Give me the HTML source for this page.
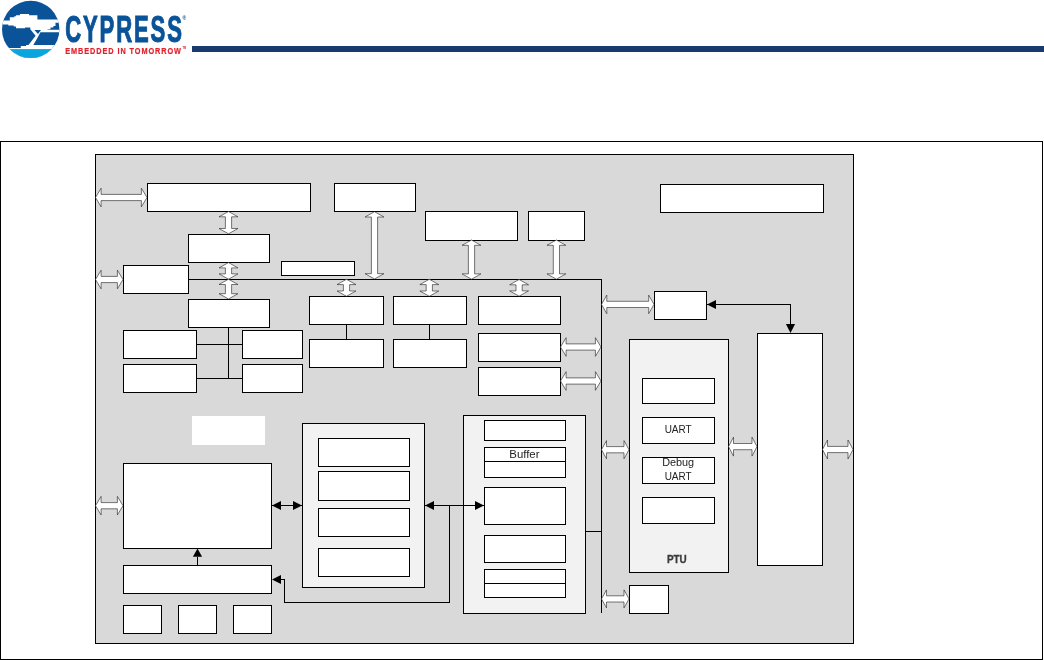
<!DOCTYPE html>
<html><head><meta charset="utf-8"><style>
html,body{margin:0;padding:0;background:#fff;width:1044px;height:660px;overflow:hidden;position:relative}
</style></head><body>

<svg width="200" height="62" viewBox="0 0 200 62" style="position:absolute;left:0;top:0;will-change:transform">
  <defs><clipPath id="cc"><circle cx="30.7" cy="29.4" r="28.7"/></clipPath></defs>
  <g clip-path="url(#cc)">
    <rect x="0" y="0" width="64" height="62" fill="#0a5399"/>
    <path fill="#fff" d="M0,20.6 L9.8,20.6 L9.8,17.2 L14.3,17.2 L14.3,16.3 L16,16.3 L16,15.3 L19.9,15.3 L19.9,14.1 L29.1,14.1 L29.1,15.3 L37.4,15.3 L37.4,19.5 L62,19.5 L62,22.7 L55.5,22.7 L55.5,26 L53.4,26 L53.4,27.5 L50.5,27.5 L50.5,29.2 L47.5,29.2 L47.5,29.8 L62,29.8 L62,32.2 L40.4,32.2 L38,37 L33.3,44.9 L62,44.9 L62,62 L0,62 L0,47.9 L20.8,47.9 L20.8,46.1 L26.1,46.1 L26.1,44.9 L28.5,44.9 L35.6,35.8 L30.3,29.2 L30.3,27.4 L25,27.4 L25,28.3 L16,28.3 L16,26.5 L13.7,26.5 L13.7,25.4 L8.3,25.4 L8.3,24.5 L2.4,24.5 L2.4,23 L0,23 Z"/>
    <path fill="#0a5399" d="M34.4,30.1 L41,30.1 L38,34 Z"/>
    <rect x="0" y="49.1" width="64" height="13" fill="#08a5df"/>
  </g>
  <g transform="translate(65.2,0) scale(0.6,1)"><text x="0" y="42.4" font-family="Liberation Sans, sans-serif" font-weight="bold" font-size="36.8" fill="#0a5399" stroke="#0a5399" stroke-width="1.1" textLength="194.5" lengthAdjust="spacing">CYPRESS</text></g>
  <text x="182.6" y="19.5" font-family="Liberation Sans, sans-serif" font-weight="bold" font-size="5" fill="#0a5399">&#174;</text>
  <g transform="translate(65.2,0) scale(0.85,1)"><text x="0" y="53.6" font-family="Liberation Sans, sans-serif" font-weight="bold" font-size="8.6" fill="#e2202a" stroke="#e2202a" stroke-width="0.2" textLength="136.2" lengthAdjust="spacing">EMBEDDED IN TOMORROW</text></g>
  <text x="182.4" y="49.4" font-family="Liberation Sans, sans-serif" font-weight="bold" font-size="2.6" fill="#e31f2b">TM</text>
</svg>
<div style="position:absolute;left:192px;top:46px;width:852px;height:6px;background:#183a6e"></div>

<svg width="1044" height="660" viewBox="0 0 1044 660" style="position:absolute;left:0;top:0;will-change:transform">
<rect x="0.5" y="141.5" width="1042" height="518" fill="#fff" stroke="#000" stroke-width="1"/>
<rect x="95.5" y="154.5" width="758" height="489" fill="#d9d9d9" stroke="#000" stroke-width="1"/>
<line x1="188" y1="279.5" x2="602" y2="279.5" stroke="#000" stroke-width="1"/>
<line x1="601.5" y1="279" x2="601.5" y2="613" stroke="#000" stroke-width="1"/>
<line x1="228.5" y1="327" x2="228.5" y2="379" stroke="#000" stroke-width="1"/>
<line x1="196" y1="344.5" x2="242" y2="344.5" stroke="#000" stroke-width="1"/>
<line x1="196" y1="378.5" x2="242" y2="378.5" stroke="#000" stroke-width="1"/>
<line x1="346.5" y1="324" x2="346.5" y2="339" stroke="#000" stroke-width="1"/>
<line x1="429.5" y1="324" x2="429.5" y2="339" stroke="#000" stroke-width="1"/>
<line x1="585" y1="531.5" x2="602" y2="531.5" stroke="#000" stroke-width="1"/>
<rect x="147.5" y="183.5" width="163" height="28" fill="#fff" stroke="#000" stroke-width="1"/>
<rect x="334.5" y="183.5" width="81" height="28" fill="#fff" stroke="#000" stroke-width="1"/>
<rect x="660.5" y="184.5" width="163" height="28" fill="#fff" stroke="#000" stroke-width="1"/>
<rect x="425.5" y="211.5" width="92" height="29" fill="#fff" stroke="#000" stroke-width="1"/>
<rect x="528.5" y="211.5" width="56" height="29" fill="#fff" stroke="#000" stroke-width="1"/>
<rect x="188.5" y="234.5" width="81" height="28" fill="#fff" stroke="#000" stroke-width="1"/>
<rect x="123.5" y="265.5" width="65" height="28" fill="#fff" stroke="#000" stroke-width="1"/>
<rect x="281.5" y="261.5" width="73" height="14" fill="#fff" stroke="#000" stroke-width="1"/>
<rect x="188.5" y="299.5" width="81" height="28" fill="#fff" stroke="#000" stroke-width="1"/>
<rect x="309.5" y="296.5" width="74" height="28" fill="#fff" stroke="#000" stroke-width="1"/>
<rect x="393.5" y="296.5" width="73" height="28" fill="#fff" stroke="#000" stroke-width="1"/>
<rect x="478.5" y="296.5" width="82" height="28" fill="#fff" stroke="#000" stroke-width="1"/>
<rect x="123.5" y="330.5" width="73" height="28" fill="#fff" stroke="#000" stroke-width="1"/>
<rect x="242.5" y="330.5" width="60" height="28" fill="#fff" stroke="#000" stroke-width="1"/>
<rect x="123.5" y="364.5" width="73" height="28" fill="#fff" stroke="#000" stroke-width="1"/>
<rect x="242.5" y="364.5" width="60" height="28" fill="#fff" stroke="#000" stroke-width="1"/>
<rect x="309.5" y="339.5" width="74" height="28" fill="#fff" stroke="#000" stroke-width="1"/>
<rect x="393.5" y="339.5" width="73" height="28" fill="#fff" stroke="#000" stroke-width="1"/>
<rect x="478.5" y="333.5" width="82" height="28" fill="#fff" stroke="#000" stroke-width="1"/>
<rect x="478.5" y="367.5" width="82" height="28" fill="#fff" stroke="#000" stroke-width="1"/>
<rect x="654.5" y="291.5" width="52" height="28" fill="#fff" stroke="#000" stroke-width="1"/>
<rect x="757.5" y="333.5" width="65" height="232" fill="#fff" stroke="#000" stroke-width="1"/>
<rect x="123.5" y="463.5" width="148" height="85" fill="#fff" stroke="#000" stroke-width="1"/>
<rect x="123.5" y="565.5" width="148" height="28" fill="#fff" stroke="#000" stroke-width="1"/>
<rect x="123.5" y="605.5" width="38" height="28" fill="#fff" stroke="#000" stroke-width="1"/>
<rect x="178.5" y="605.5" width="38" height="28" fill="#fff" stroke="#000" stroke-width="1"/>
<rect x="233.5" y="605.5" width="38" height="28" fill="#fff" stroke="#000" stroke-width="1"/>
<rect x="629.5" y="585.5" width="39" height="28" fill="#fff" stroke="#000" stroke-width="1"/>
<rect x="192" y="416" width="73" height="29" fill="#fff"/>
<rect x="302.5" y="423.5" width="122" height="164" fill="#f2f2f2" stroke="#000" stroke-width="1"/>
<rect x="318.5" y="438.5" width="91" height="28" fill="#fff" stroke="#000" stroke-width="1"/>
<rect x="318.5" y="471.5" width="91" height="29" fill="#fff" stroke="#000" stroke-width="1"/>
<rect x="318.5" y="508.5" width="91" height="28" fill="#fff" stroke="#000" stroke-width="1"/>
<rect x="318.5" y="548.5" width="91" height="28" fill="#fff" stroke="#000" stroke-width="1"/>
<rect x="463.5" y="415.5" width="122" height="198" fill="#f2f2f2" stroke="#000" stroke-width="1"/>
<rect x="484.5" y="420.5" width="81" height="20" fill="#fff" stroke="#000" stroke-width="1"/>
<rect x="484.5" y="447.5" width="81" height="30" fill="#fff" stroke="#000" stroke-width="1"/>
<rect x="484.5" y="487.5" width="81" height="37" fill="#fff" stroke="#000" stroke-width="1"/>
<rect x="484.5" y="535.5" width="81" height="27" fill="#fff" stroke="#000" stroke-width="1"/>
<rect x="484.5" y="569.5" width="81" height="28" fill="#fff" stroke="#000" stroke-width="1"/>
<line x1="484" y1="461.5" x2="566" y2="461.5" stroke="#000" stroke-width="1"/>
<line x1="484" y1="583.5" x2="566" y2="583.5" stroke="#000" stroke-width="1"/>
<rect x="629.5" y="339.5" width="99" height="233" fill="#f2f2f2" stroke="#000" stroke-width="1"/>
<rect x="642.5" y="378.5" width="72" height="25" fill="#fff" stroke="#000" stroke-width="1"/>
<rect x="642.5" y="417.5" width="72" height="26" fill="#fff" stroke="#000" stroke-width="1"/>
<rect x="642.5" y="457.5" width="72" height="26" fill="#fff" stroke="#000" stroke-width="1"/>
<rect x="642.5" y="497.5" width="72" height="26" fill="#fff" stroke="#000" stroke-width="1"/>
<line x1="707" y1="304.5" x2="791" y2="304.5" stroke="#000" stroke-width="1"/>
<line x1="790.5" y1="304" x2="790.5" y2="325" stroke="#000" stroke-width="1"/>
<polygon points="707.00,304.50 716.00,299.90 716.00,309.10" fill="#000"/>
<polygon points="790.50,333.00 785.90,324.00 795.10,324.00" fill="#000"/>
<line x1="272" y1="505.5" x2="302" y2="505.5" stroke="#000" stroke-width="1"/>
<polygon points="272.00,505.50 281.00,500.90 281.00,510.10" fill="#000"/>
<polygon points="302.00,505.50 293.00,500.90 293.00,510.10" fill="#000"/>
<line x1="425" y1="505.5" x2="484" y2="505.5" stroke="#000" stroke-width="1"/>
<polygon points="425.00,505.50 434.00,500.90 434.00,510.10" fill="#000"/>
<polygon points="484.00,505.50 475.00,500.90 475.00,510.10" fill="#000"/>
<line x1="449.5" y1="505" x2="449.5" y2="603" stroke="#000" stroke-width="1"/>
<line x1="284" y1="602.5" x2="450" y2="602.5" stroke="#000" stroke-width="1"/>
<line x1="284.5" y1="579" x2="284.5" y2="603" stroke="#000" stroke-width="1"/>
<line x1="280" y1="579.5" x2="285" y2="579.5" stroke="#000" stroke-width="1"/>
<polygon points="272.00,579.50 281.00,574.90 281.00,584.10" fill="#000"/>
<line x1="197.5" y1="557" x2="197.5" y2="565" stroke="#000" stroke-width="1"/>
<polygon points="197.50,548.60 192.90,556.80 202.10,556.80" fill="#000"/>
<polygon points="95.50,197.50 101.10,188.20 101.10,194.40 141.40,194.40 141.40,188.20 147.00,197.50 141.40,206.80 141.40,200.60 101.10,200.60 101.10,206.80" fill="#fff" stroke="#262626" stroke-width="0.62" stroke-linejoin="miter"/>
<polygon points="95.50,279.50 101.10,270.20 101.10,276.40 117.40,276.40 117.40,270.20 123.00,279.50 117.40,288.80 117.40,282.60 101.10,282.60 101.10,288.80" fill="#fff" stroke="#262626" stroke-width="0.62" stroke-linejoin="miter"/>
<polygon points="95.50,505.70 101.10,496.40 101.10,502.60 117.40,502.60 117.40,496.40 123.00,505.70 117.40,515.00 117.40,508.80 101.10,508.80 101.10,515.00" fill="#fff" stroke="#262626" stroke-width="0.62" stroke-linejoin="miter"/>
<polygon points="601.50,304.40 606.80,295.10 606.80,301.30 648.70,301.30 648.70,295.10 654.00,304.40 648.70,313.70 648.70,307.50 606.80,307.50 606.80,313.70" fill="#fff" stroke="#262626" stroke-width="0.62" stroke-linejoin="miter"/>
<polygon points="560.50,347.00 566.10,337.70 566.10,343.90 595.40,343.90 595.40,337.70 601.00,347.00 595.40,356.30 595.40,350.10 566.10,350.10 566.10,356.30" fill="#fff" stroke="#262626" stroke-width="0.62" stroke-linejoin="miter"/>
<polygon points="560.50,381.00 566.10,371.70 566.10,377.90 595.40,377.90 595.40,371.70 601.00,381.00 595.40,390.30 595.40,384.10 566.10,384.10 566.10,390.30" fill="#fff" stroke="#262626" stroke-width="0.62" stroke-linejoin="miter"/>
<polygon points="601.50,449.70 606.50,440.60 606.50,446.60 624.00,446.60 624.00,440.60 629.00,449.70 624.00,458.80 624.00,452.80 606.50,452.80 606.50,458.80" fill="#fff" stroke="#262626" stroke-width="0.62" stroke-linejoin="miter"/>
<polygon points="728.50,446.60 733.50,437.10 733.50,443.50 752.00,443.50 752.00,437.10 757.00,446.60 752.00,456.10 752.00,449.70 733.50,449.70 733.50,456.10" fill="#fff" stroke="#262626" stroke-width="0.62" stroke-linejoin="miter"/>
<polygon points="822.50,449.50 827.50,440.00 827.50,446.40 848.00,446.40 848.00,440.00 853.00,449.50 848.00,459.00 848.00,452.60 827.50,452.60 827.50,459.00" fill="#fff" stroke="#262626" stroke-width="0.62" stroke-linejoin="miter"/>
<polygon points="601.50,598.90 606.50,589.90 606.50,595.80 624.00,595.80 624.00,589.90 629.00,598.90 624.00,607.90 624.00,602.00 606.50,602.00 606.50,607.90" fill="#fff" stroke="#262626" stroke-width="0.62" stroke-linejoin="miter"/>
<polygon points="228.50,211.50 237.95,216.80 231.60,216.80 231.60,228.50 237.95,228.50 228.50,233.80 219.05,228.50 225.40,228.50 225.40,216.80 219.05,216.80" fill="#fff" stroke="#262626" stroke-width="0.62" stroke-linejoin="miter"/>
<polygon points="228.50,262.60 237.95,267.90 231.60,267.90 231.60,273.90 237.95,273.90 228.50,279.20 219.05,273.90 225.40,273.90 225.40,267.90 219.05,267.90" fill="#fff" stroke="#262626" stroke-width="0.62" stroke-linejoin="miter"/>
<polygon points="228.50,279.20 237.95,284.50 231.60,284.50 231.60,293.70 237.95,293.70 228.50,299.00 219.05,293.70 225.40,293.70 225.40,284.50 219.05,284.50" fill="#fff" stroke="#262626" stroke-width="0.62" stroke-linejoin="miter"/>
<polygon points="374.50,211.70 383.95,217.00 377.60,217.00 377.60,273.70 383.95,273.70 374.50,279.00 365.05,273.70 371.40,273.70 371.40,217.00 365.05,217.00" fill="#fff" stroke="#262626" stroke-width="0.62" stroke-linejoin="miter"/>
<polygon points="471.50,240.00 480.95,245.30 474.60,245.30 474.60,273.90 480.95,273.90 471.50,279.20 462.05,273.90 468.40,273.90 468.40,245.30 462.05,245.30" fill="#fff" stroke="#262626" stroke-width="0.62" stroke-linejoin="miter"/>
<polygon points="556.40,240.00 565.85,245.30 559.50,245.30 559.50,273.90 565.85,273.90 556.40,279.20 546.95,273.90 553.30,273.90 553.30,245.30 546.95,245.30" fill="#fff" stroke="#262626" stroke-width="0.62" stroke-linejoin="miter"/>
<polygon points="346.50,279.30 355.95,284.60 349.60,284.60 349.60,291.00 355.95,291.00 346.50,296.30 337.05,291.00 343.40,291.00 343.40,284.60 337.05,284.60" fill="#fff" stroke="#262626" stroke-width="0.62" stroke-linejoin="miter"/>
<polygon points="429.30,279.30 438.75,284.60 432.40,284.60 432.40,291.00 438.75,291.00 429.30,296.30 419.85,291.00 426.20,291.00 426.20,284.60 419.85,284.60" fill="#fff" stroke="#262626" stroke-width="0.62" stroke-linejoin="miter"/>
<polygon points="519.10,279.50 528.55,284.80 522.20,284.80 522.20,290.90 528.55,290.90 519.10,296.20 509.65,290.90 516.00,290.90 516.00,284.80 509.65,284.80" fill="#fff" stroke="#262626" stroke-width="0.62" stroke-linejoin="miter"/>
<g font-family="Liberation Sans, sans-serif" fill="#222" text-anchor="middle" font-size="10.2">
<text x="524.4" y="457.9" textLength="30.2" lengthAdjust="spacingAndGlyphs">Buffer</text>
<text x="678.15" y="433.2" textLength="27" lengthAdjust="spacingAndGlyphs">UART</text>
<text x="678.15" y="466.1" textLength="32" lengthAdjust="spacingAndGlyphs">Debug</text>
<text x="678.15" y="479.8" textLength="27" lengthAdjust="spacingAndGlyphs">UART</text>
<text x="676.8" y="562.7" font-size="10.2" font-weight="bold" fill="#3a3a3a" stroke="#3a3a3a" stroke-width="0.3" textLength="19.8" lengthAdjust="spacingAndGlyphs">PTU</text>
</g>
</svg>
</body></html>
